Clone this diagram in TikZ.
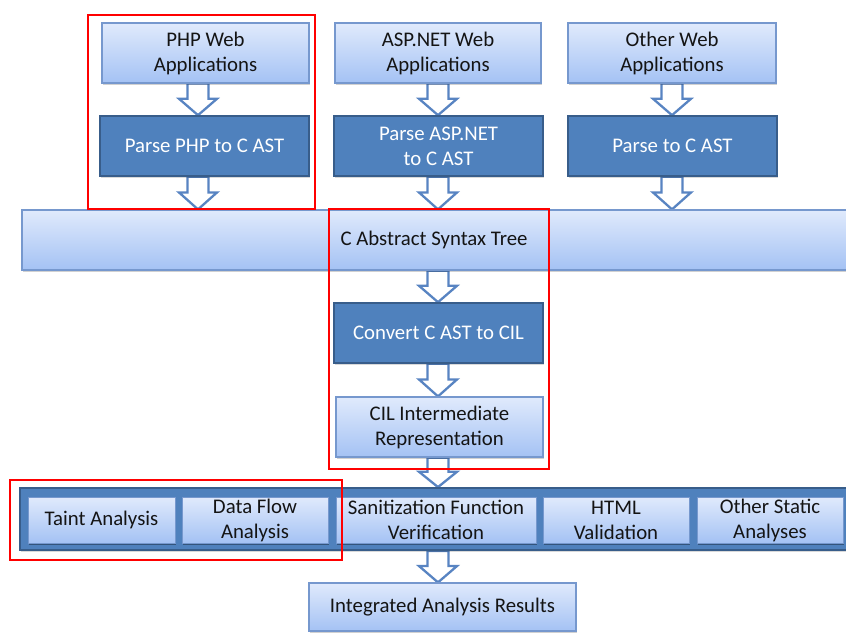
\documentclass[tikz,border=0pt]{standalone}
\usepackage{fontspec}
\setmainfont{Carlito}
\usetikzlibrary{calc,shadows,backgrounds}

\definecolor{lighttop}{RGB}{224,234,252}
\definecolor{lightbot}{RGB}{164,194,244}
\definecolor{lightedge}{RGB}{118,152,206}
\definecolor{darkfill}{RGB}{79,129,189}
\definecolor{darkedge}{RGB}{56,93,138}
\definecolor{arrowedge}{RGB}{88,132,194}
\definecolor{textdark}{RGB}{20,20,20}

% hollow block arrow: x centre (pt), start anchor, tip anchor
\newcommand\hollowarrow[3]{%
  \draw[hollow] let \p1=(#2), \p2=(#3) in
    ({#1pt-10.5pt},\y1) -- ({#1pt+10.5pt},\y1)
    -- ({#1pt+10.5pt},{\y2+0.52*(\y1-\y2)}) -- ({#1pt+19pt},{\y2+0.52*(\y1-\y2)})
    -- (#1pt,\y2) -- ({#1pt-19pt},{\y2+0.52*(\y1-\y2)})
    -- ({#1pt-10.5pt},{\y2+0.52*(\y1-\y2)}) -- cycle;}

\begin{document}
\begin{tikzpicture}[x=1pt,y=-1pt,
  every node/.style={font=\fontsize{20.8}{25}\selectfont, align=center, inner sep=0pt},
  lightbox/.style={draw=lightedge, line width=1.2pt, top color=lighttop,
    bottom color=lightbot, text=textdark,
    general shadow={fill=black, opacity=0.18, shadow xshift=1pt, shadow yshift=-2pt}},
  darkbox/.style={draw=darkedge, line width=1.6pt, fill=darkfill, text=white,
    general shadow={fill=black, opacity=0.15, shadow xshift=1pt, shadow yshift=-2pt}},
  hollow/.style={draw=arrowedge, fill=white, line width=2.3pt, line join=miter},
  focus/.style={draw=red, line width=2.4pt}
]
\useasboundingbox (0,0) rectangle (846,639);

% source applications
\node[lightbox, minimum width=207, minimum height=60] (php) at (205.5,53) {PHP Web\\Applications};
\node[lightbox, minimum width=206, minimum height=60] (asp) at (438,53) {ASP.NET Web\\Applications};
\node[lightbox, minimum width=208, minimum height=60] (oth) at (672,53) {Other Web\\Applications};

% front-end parsers
\node[darkbox, minimum width=209, minimum height=60] (pphp) at (204.5,146) {Parse PHP to C AST};
\node[darkbox, minimum width=209, minimum height=60] (pasp) at (438.5,146) {Parse ASP.NET\\to C AST};
\node[darkbox, minimum width=209, minimum height=60] (poth) at (672.5,146) {Parse to C AST};

% common AST
\node[lightbox, minimum width=836, minimum height=60] (cast) at (440,240) {};
\node[text=textdark] at (434,240) {C Abstract Syntax Tree};

% conversion to CIL
\node[darkbox, minimum width=209, minimum height=60] (conv) at (438.5,333) {Convert C AST to CIL};
\node[lightbox, minimum width=207, minimum height=60] (cil) at (439.5,427) {CIL Intermediate\\Representation};

% analysis suite
\node[darkbox, line width=1.8pt, minimum width=830, minimum height=62] (suite) at (435,519) {};
\begin{scope}[every node/.append style={lightbox, line width=0.9pt, minimum height=46,
    general shadow={fill=black, opacity=0.2, shadow xshift=1pt, shadow yshift=-1.5pt}}]
  \node[minimum width=147] (taint) at (101.5,520) {Taint Analysis};
  \node[minimum width=146] (dflow) at (255,520) {Data Flow\\Analysis};
  \node[minimum width=200] (sanit) at (436,520) {Sanitization Function\\Verification};
  \node[minimum width=146] (html) at (616,520) {HTML\\Validation};
  \node[minimum width=146] (osa) at (770,520) {Other Static\\Analyses};
\end{scope}

% results
\node[lightbox, minimum width=267, minimum height=48] (res) at (442.5,607) {Integrated Analysis Results};

% white page and flow arrows, behind the boxes
\begin{scope}[on background layer]
  \fill[white] (0,0) rectangle (846,639);
  \hollowarrow{198}{php.south}{pphp.north}
  \hollowarrow{438}{asp.south}{pasp.north}
  \hollowarrow{672}{oth.south}{poth.north}
  \hollowarrow{198}{pphp.south}{cast.north}
  \hollowarrow{438}{pasp.south}{cast.north}
  \hollowarrow{672}{poth.south}{cast.north}
  \hollowarrow{438}{cast.south}{conv.north}
  \hollowarrow{438}{conv.south}{cil.north}
  \hollowarrow{438}{cil.south}{suite.north}
  \hollowarrow{438}{suite.south}{res.north}
\end{scope}

% highlighted regions
\draw[focus] (88,15) rectangle (315,209);
\draw[focus] (329,209) rectangle (549,469);
\draw[focus] (10,480) rectangle (342,560);
\end{tikzpicture}
\end{document}
